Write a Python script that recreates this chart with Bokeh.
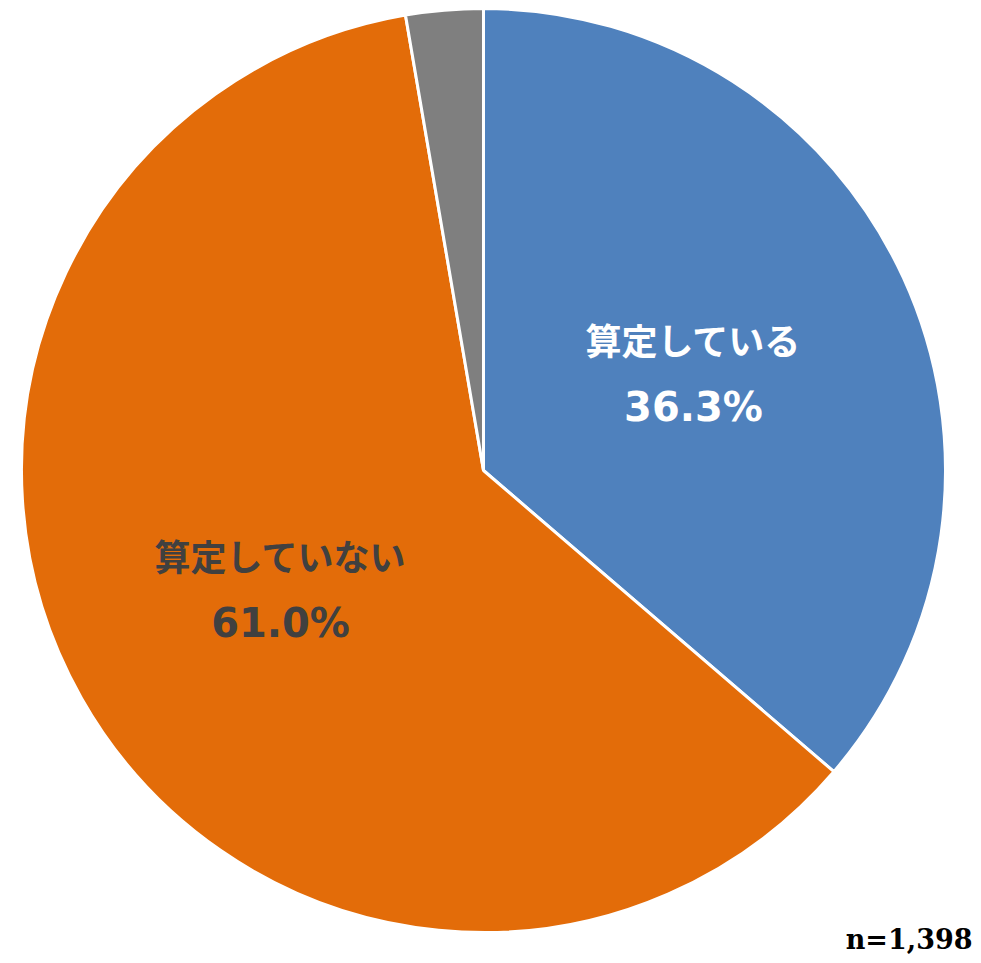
import math
from bokeh.plotting import figure
from bokeh.models import ColumnDataSource, Range1d
from bokeh.core.properties import value
from bokeh.embed import file_html
from bokeh.resources import INLINE

categories = ["算定している", "算定していない", "無回答"]
shares = [36.3, 61.0, 2.7]
colors = ["#4F81BD", "#E36C09", "#7F7F7F"]
label_colors = ["#FFFFFF", "#404040", "#404040"]
sample_note = "n=1,398"

W, H = 973, 955
cx, cy, r = 483, H - 470, 462

starts, ends = [], []
a = math.pi / 2
total = sum(shares)
for s in shares:
    starts.append(a)
    a = a - s / total * 2 * math.pi
    ends.append(a)

src = ColumnDataSource(dict(cat=categories, share=shares, start=starts, end=ends, color=colors))

p = figure(width=W, height=H, output_backend="svg", toolbar_location=None,
           x_range=Range1d(0, W), y_range=Range1d(0, H), min_border=0)
p.axis.visible = False
p.grid.visible = False
p.outline_line_color = None
p.background_fill_color = "white"

p.wedge(x=cx, y=cy, radius=r, start_angle="start", end_angle="end", direction="clock",
        fill_color="color", line_color="white", line_width=3, source=src)

# labels for the two main slices
offsets = [(0, 0), (-10, -10)]
for i in range(2):
    mid = (starts[i] + ends[i]) / 2
    rr = [0.50, 0.48][i]
    lx = cx + r * rr * math.cos(mid) + offsets[i][0]
    ly = cy + r * rr * math.sin(mid) + offsets[i][1]
    p.text(x=[lx], y=[ly + 35], text=[categories[i]], text_align="center", text_baseline="middle",
           text_font=value("Noto Sans CJK JP"), text_font_style="bold", text_font_size="36px",
           text_color=label_colors[i])
    p.text(x=[lx], y=[ly - 33], text=[f"{shares[i]:.1f}%"], text_align="center", text_baseline="middle",
           text_font=value("DejaVu Sans"), text_font_style="bold", text_font_size="40px",
           text_color=label_colors[i])

p.text(x=[W - 1], y=[1], text=[sample_note], text_align="right", text_baseline="bottom",
       text_font=value("DejaVu Serif"), text_font_style="bold", text_font_size="27px",
       text_color="#000000")

open("out.html", "w").write(file_html(p, INLINE))
